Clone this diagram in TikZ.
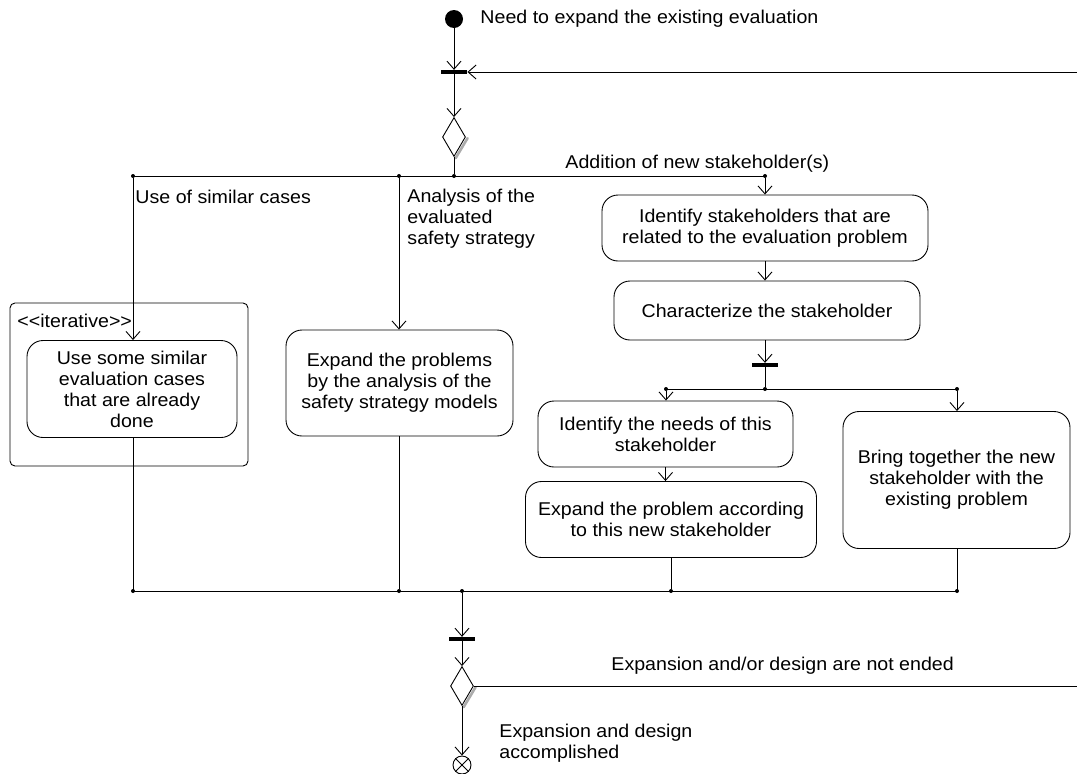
\documentclass[tikz,border=0pt]{standalone}
\usepackage{fontspec}
\setmainfont{Liberation Sans}[FakeStretch=1.06]
\usetikzlibrary{arrows.meta,shapes.geometric}

\begin{document}
\begin{tikzpicture}[x=1pt,y=-1pt,line width=0.9pt,
  font=\fontsize{18.5}{21}\selectfont,
  act/.style={draw, rounded corners=16, align=center, inner sep=0},
  flow/.style={draw, -{Straight Barb[length=8pt,width=14pt]}},
  link/.style={draw},
  syncbar/.style={fill=black, minimum width=26, minimum height=3.4, inner sep=0},
  choice/.style={diamond, draw, fill=white, minimum width=23, minimum height=39, inner sep=0},
  dot/.style={circle, fill=black, minimum size=4, inner sep=0},
  lbl/.style={anchor=west, align=left, inner sep=0},
  shade/.style={draw=gray!65, line width=2.6pt, line cap=round},
]
\useasboundingbox (0,0) rectangle (1077,774);

% initial node, first synchronisation and decision
\node[circle, fill=black, minimum size=18, inner sep=0] (start) at (454,19) {};
\node[lbl] (startlbl) at (480,19) {Need to expand the existing evaluation};
\node[syncbar] (bar1) at (454,72) {};
\coordinate (loopin) at (1077,72);
\node[choice] (d1) at (454,137) {};
\node[dot] (j0) at (454,176) {};
\node[dot] (j1) at (399,176) {};
\node[dot] (jl) at (133,176) {};
\node[dot] (jr) at (765,176) {};

% iterative region
\node[act, rounded corners=5, minimum width=238, minimum height=163] (iter) at (129,384.5) {};
\node[lbl] (iterlbl) at (17,321) {<\kern0pt<iterative>\kern0pt>};
\node[act, minimum width=210, minimum height=97] (similar) at (132,389)
  {Use some similar\\evaluation cases\\that are already\\done};

% safety strategy branch
\node[act, minimum width=227, minimum height=106] (probs) at (399.5,383)
  {Expand the problems\\by the analysis of the\\safety strategy models};

% stakeholder branch
\node[act, minimum width=326, minimum height=66] (stake) at (765,228)
  {Identify stakeholders that are\\related to the evaluation problem};
\node[act, minimum width=306, minimum height=59] (charac) at (767,310.5)
  {Characterize the stakeholder};
\node[syncbar] (bar2) at (765,365) {};
\node[dot] (j2) at (765,389) {};
\node[dot] (j3) at (666,389) {};
\node[dot] (j4) at (957,389) {};
\node[act, minimum width=255, minimum height=66] (needs) at (665.5,434)
  {Identify the needs of this\\stakeholder};
\node[act, minimum width=291, minimum height=76] (accord) at (671,519.5)
  {Expand the problem according\\to this new stakeholder};
\node[act, minimum width=227, minimum height=137] (bring) at (956.5,480)
  {Bring together the new\\stakeholder with the\\existing problem};

% merge, final synchronisation and decision
\node[dot] (m1) at (133,591) {};
\node[dot] (m2) at (399,591) {};
\node[dot] (m3) at (462,591) {};
\node[dot] (m4) at (671,591) {};
\node[dot] (m5) at (957,591) {};
\node[syncbar] (bar3) at (462,639) {};
\node[choice] (d2) at (462,686) {};
\coordinate (loopout) at (1077,686);
\node[circle, draw, fill=white, minimum size=18, inner sep=0] (final) at (462,765) {};
\draw (final.north west) -- (final.south east) (final.north east) -- (final.south west);

% decision shadows
\draw[shade] ([shift={(1.6,1.2)}]d1.east) -- ([shift={(1.6,1.2)}]d1.south);
\draw[shade] ([shift={(1.6,1.2)}]d2.east) -- ([shift={(1.6,1.2)}]d2.south);

% guards and labels
\node[lbl] (g1) at (565,164) {Addition of new stakeholder(s)};
\node[lbl] (g2) at (135,197) {Use of similar cases};
\node[lbl, anchor=north west] (g3) at (407,189) {Analysis of the\\evaluated\\safety strategy};
\node[lbl] (g4) at (611,666) {Expansion and/or design are not ended};
\node[lbl, anchor=north west] (g5) at (499,724) {Expansion and design\\accomplished};

% connectors
\draw[flow] (start) -- (bar1);
\draw[flow] (loopin) -- (bar1.east);
\draw[flow] (bar1) -- (d1);
\draw[link] (d1) -- (j0);
\draw[link] (jl.center) -- (jr.center);
\draw[flow] (jl) -- (jl |- similar.north);
\draw[flow] (j1) -- (j1 |- probs.north);
\draw[flow] (jr) -- (jr |- stake.north);
\draw[flow] (jr |- stake.south) -- (jr |- charac.north);
\draw[flow] (jr |- charac.south) -- (bar2);
\draw[link] (bar2) -- (j2);
\draw[link] (j3.center) -- (j4.center);
\draw[flow] (j3) -- (j3 |- needs.north);
\draw[flow] (j4) -- (j4 |- bring.north);
\draw[flow] (needs.south) -- (needs.south |- accord.north);
\draw[link] (jl |- similar.south) -- (m1.center);
\draw[link] (j1 |- probs.south) -- (m2);
\draw[link] (m4 |- accord.south) -- (m4);
\draw[link] (j4 |- bring.south) -- (m5.center);
\draw[link] (m1.center) -- (m5.center);
\draw[flow] (m3) -- (bar3);
\draw[flow] (bar3) -- (d2);
\draw[link] (d2.east) -- (loopout);
\draw[flow] (d2) -- (final);
\end{tikzpicture}
\end{document}
